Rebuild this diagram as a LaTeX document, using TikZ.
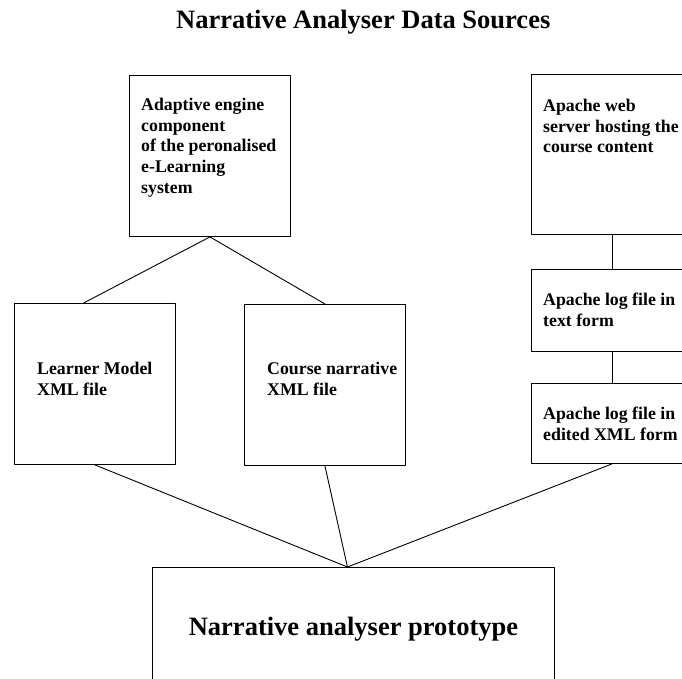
\documentclass[tikz,border=0pt]{standalone}
\usepackage{fontspec}
\setmainfont{Liberation Serif}
\usetikzlibrary{calc}
\tikzset{
  box/.style={draw, line width=0.9pt, inner sep=0pt, anchor=north west, minimum width=161pt},
  boxtext/.style={inner sep=0pt, anchor=north west, align=left, font=\bfseries\fontsize{17.8}{20.7}\selectfont},
  link/.style={line width=0.9pt}
}

\begin{document}
\begin{tikzpicture}[x=1pt, y=-1pt, line join=round, line cap=round]
	\clip (0,0) rectangle (682,678);
	\node[font=\bfseries\fontsize{26.5}{30}\selectfont, anchor=base west, inner sep=0pt] (title) at (176,28) {Narrative Analyser Data Sources};
	% upper boxes
	\node[box, minimum height=161pt] (adaptive) at (129,75) {};
	\node[box, minimum height=160pt] (web) at (531,74) {};
	\node[box, minimum height=82pt] (logtxt) at (531,269) {};
	\node[box, minimum height=80pt] (logxml) at (531,383) {};
	% middle boxes
	\node[box, minimum height=161pt] (learner) at (14,303) {};
	\node[box, minimum height=161pt] (course) at (244,304) {};
	% the prototype, cut off at the bottom
	\node[box, minimum width=402pt, minimum height=160pt] (proto) at (152,567) {};
	\coordinate (meet) at ($(proto.north)+(-6,0)$);
	% texts
	\node[boxtext] (adaptivetext) at ($(adaptive.north west)+(12,23)$) {Adaptive engine\\component\\of the peronalised\\e-Learning\\system};
	\node[boxtext] (webtext) at ($(web.north west)+(12,25)$) {Apache web\\server hosting the\\course content};
	\node[boxtext] (logtxttext) at ($(logtxt.north west)+(12,24)$) {Apache log file in\\text form};
	\node[boxtext] (logxmltext) at ($(logxml.north west)+(12,24)$) {Apache log file in\\edited XML form};
	\node[boxtext] (learnertext) at ($(learner.north west)+(23,59)$) {Learner Model\\XML file};
	\node[boxtext] (coursetext) at ($(course.north west)+(23,58)$) {Course narrative\\XML file};
	\node[font=\bfseries\fontsize{26.5}{30}\selectfont, anchor=base] (prototext) at ($(proto.north)+(0,68)$) {Narrative analyser prototype};
	% connectors
	\draw[link] (adaptive.south) -- ($(learner.north west)!0.43!(learner.north east)$);
	\draw[link] (adaptive.south) -- (course.north);
	\draw[link] (web.south) -- (logtxt.north);
	\draw[link] (logtxt.south) -- (logxml.north);
	\draw[link] (learner.south) -- (meet);
	\draw[link] (course.south) -- (meet);
	\draw[link] (logxml.south) -- (meet);
\end{tikzpicture}
\end{document}
